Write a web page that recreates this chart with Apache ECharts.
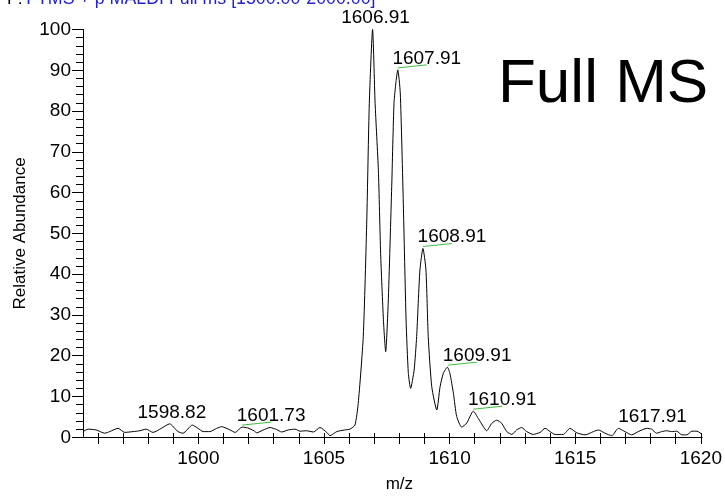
<!DOCTYPE html>
<html>
<head>
<meta charset="utf-8">
<script src="https://cdn.jsdelivr.net/npm/echarts@6/dist/echarts.min.js"></script>
<style>
  html, body { margin: 0; padding: 0; background: #ffffff; }
  #chart { width: 725px; height: 498px; }
</style>
</head>
<body>
<div id="chart"></div>
<script>
// ---- data ----
const mzValues = [
  1595.41, 1595.61, 1595.94, 1596.27, 1596.47, 1596.80, 1597.07, 1597.40, 1597.66, 1597.92,
  1598.19, 1598.52, 1598.85, 1599.18, 1599.38, 1599.75, 1599.98, 1600.18, 1600.45, 1600.72,
  1600.92, 1601.25, 1601.45, 1601.73, 1601.95, 1602.20, 1602.31, 1602.57, 1602.84, 1603.10,
  1603.30, 1603.56, 1603.83, 1604.03, 1604.29, 1604.56, 1604.82, 1605.09, 1605.22, 1605.49,
  1605.80, 1606.01, 1606.21, 1606.34, 1606.54, 1606.68, 1606.78, 1606.91, 1607.01, 1607.14,
  1607.23, 1607.34, 1607.43, 1607.53, 1607.67, 1607.76, 1607.84, 1607.91, 1608.01, 1608.13,
  1608.24, 1608.33, 1608.42, 1608.56, 1608.66, 1608.79, 1608.91, 1609.03, 1609.12, 1609.26,
  1609.46, 1609.59, 1609.72, 1609.88, 1609.98, 1610.12, 1610.25, 1610.45, 1610.65, 1610.91,
  1611.11, 1611.31, 1611.44, 1611.64, 1611.84, 1612.04, 1612.24, 1612.44, 1612.63, 1612.83,
  1613.03, 1613.29, 1613.56, 1613.76, 1613.96, 1614.15, 1614.48, 1614.75, 1615.02, 1615.35,
  1615.68, 1615.88, 1616.14, 1616.41, 1616.67, 1616.93, 1617.20, 1617.46, 1617.80, 1617.99,
  1618.19, 1618.39, 1618.59, 1618.79, 1618.99, 1619.19, 1619.39, 1619.59, 1619.79, 1620.00
];
const abundance = [
  1.4, 2.0, 1.8, 1.0, 1.4, 2.2, 1.2, 1.4, 1.6, 2.0,
  1.2, 2.2, 3.3, 1.4, 1.0, 3.0, 2.2, 1.4, 1.4, 2.2,
  2.6, 1.8, 1.2, 2.5, 2.3, 1.6, 1.1, 1.8, 2.4, 1.9,
  1.3, 1.8, 2.0, 1.5, 1.6, 1.3, 2.4, 1.2, 0.4, 1.4,
  1.8, 2.0, 3.0, 8.3, 24.7, 53.3, 81.9, 100.0, 81.9, 65.5,
  45.1, 28.8, 21.0, 32.9, 61.5, 81.9, 87.2, 90.1, 84.4, 57.4,
  28.8, 15.7, 12.0, 16.5, 24.7, 41.0, 46.3, 41.0, 24.7, 12.4,
  6.7, 12.4, 15.7, 17.2, 15.7, 10.8, 5.1, 2.5, 3.5, 6.4,
  4.6, 2.6, 1.6, 3.4, 4.2, 3.4, 1.4, 0.7, 1.8, 2.4,
  1.4, 0.7, 1.2, 2.2, 1.4, 0.7, 0.7, 2.2, 1.1, 0.6,
  1.4, 1.8, 1.0, 0.4, 2.2, 1.4, 0.6, 1.4, 2.2, 2.0,
  1.0, 1.4, 1.6, 1.4, 1.5, 0.6, 0.6, 1.5, 1.5, 0.7
];

// labelled peaks
const peakMz     = [1606.91, 1607.91, 1608.91, 1609.91, 1610.91, 1601.73, 1598.82, 1617.91];
const peakHeight = [100.0, 90.1, 46.3, 17.2, 6.4, 2.5, 3.3, 2.2];
const peakText   = ['1606.91', '1607.91', '1608.91', '1609.91', '1610.91', '1601.73', '1598.82', '1617.91'];
const peakLeader = [false, true, true, true, true, true, false, false];

// axes
const xMin = 1595.41, xMax = 1620;
const xTickStart = 1596;
const yMin = 0, yMax = 100, yStep = 10;

const headerPrefix = 'F:';
const headerText = 'FTMS + p MALDI Full ms [1500.00-2000.00]';
const bigNote = 'Full MS';

// ---- chart ----
const FONT = "'Liberation Sans', Arial, Helvetica, sans-serif";
const spectrum = mzValues.map((m, i) => [m, abundance[i]]);
const peaks = peakMz.map((m, i) => [m, peakHeight[i], i]);

const gridTop = 29.5, gridBottom = 60.7, gridLeft = 83, gridRight = 22.8;
const pxPerUnit = (725 - gridLeft - gridRight) / (xMax - xMin);

const chart = echarts.init(document.getElementById('chart'), null, { renderer: 'canvas' });
chart.setOption({
  animation: false,
  backgroundColor: '#ffffff',
  textStyle: { fontFamily: FONT },
  grid: [
    { left: gridLeft, right: gridRight, top: gridTop, bottom: gridBottom },
    { left: gridLeft + (xTickStart - xMin) * pxPerUnit, right: gridRight, top: gridTop, bottom: gridBottom }
  ],
  xAxis: [
    {
      type: 'value', gridIndex: 0, min: xMin, max: xMax,
      axisLine: { show: true, lineStyle: { color: '#000', width: 1 } },
      axisTick: { show: false }, axisLabel: { show: false }, splitLine: { show: false }
    },
    {
      type: 'value', gridIndex: 1, min: xTickStart, max: xMax, interval: 1,
      axisLine: { show: false },
      axisTick: { show: true, inside: false, length: 11, lineStyle: { color: '#000', width: 1 } },
      axisLabel: {
        show: true, margin: 16, color: '#000', fontSize: 19, fontFamily: FONT,
        formatter: v => (Math.round(v) % 5 === 0 ? String(Math.round(v)) : '')
      },
      splitLine: { show: false },
      name: 'm/z', nameLocation: 'middle', nameGap: 43,
      nameTextStyle: { color: '#000', fontSize: 17, fontFamily: FONT }
    }
  ],
  yAxis: [
    {
      type: 'value', gridIndex: 0, min: yMin, max: yMax, interval: yStep,
      axisLine: { show: true, lineStyle: { color: '#000', width: 1 } },
      axisTick: { show: true, length: 11, lineStyle: { color: '#000', width: 1 } },
      minorTick: { show: true, splitNumber: 5, length: 7, lineStyle: { color: '#000', width: 1 } },
      axisLabel: { margin: 12, color: '#000', fontSize: 19, fontFamily: FONT },
      splitLine: { show: false },
      name: 'Relative Abundance', nameLocation: 'middle', nameGap: 50,
      nameTextStyle: { color: '#000', fontSize: 17, fontFamily: FONT }
    },
    {
      type: 'value', gridIndex: 1, min: yMin, max: yMax, show: false
    }
  ],
  graphic: [
    {
      type: 'text', left: 7, top: -10, silent: true,
      style: {
        text: '{k|' + headerPrefix + '} {b|' + headerText + '}',
        rich: {
          k: { fill: '#000', fontSize: 17.8, fontFamily: FONT },
          b: { fill: '#2323c4', fontSize: 17.8, fontFamily: FONT }
        }
      }
    },
    {
      type: 'text', left: 498, top: 54, silent: true,
      style: { text: bigNote, fill: '#000', fontSize: 62, fontFamily: FONT }
    }
  ],
  series: [
    {
      type: 'line', xAxisIndex: 0, yAxisIndex: 0,
      data: spectrum, showSymbol: false, smooth: 0.2,
      lineStyle: { color: '#000', width: 1 }, silent: true
    },
    {
      type: 'custom', xAxisIndex: 0, yAxisIndex: 0, data: peaks, silent: true,
      renderItem: function (params, api) {
        const i = api.value(2);
        const p = api.coord([api.value(0), api.value(1)]);
        const lead = peakLeader[i];
        const children = [];
        if (lead) {
          children.push({
            type: 'line',
            shape: { x1: p[0], y1: p[1] - 2, x2: p[0] + 29, y2: p[1] - 5 },
            style: { stroke: '#3cbf3c', lineWidth: 1 }
          });
        }
        children.push({
          type: 'text',
          x: p[0] + (lead ? 29 : 3), y: p[1] - 2,
          style: {
            text: peakText[i], fill: '#000', fontSize: 19, fontFamily: FONT,
            align: 'center', verticalAlign: 'bottom'
          }
        });
        return { type: 'group', children: children };
      }
    }
  ]
});
</script>
</body>
</html>
